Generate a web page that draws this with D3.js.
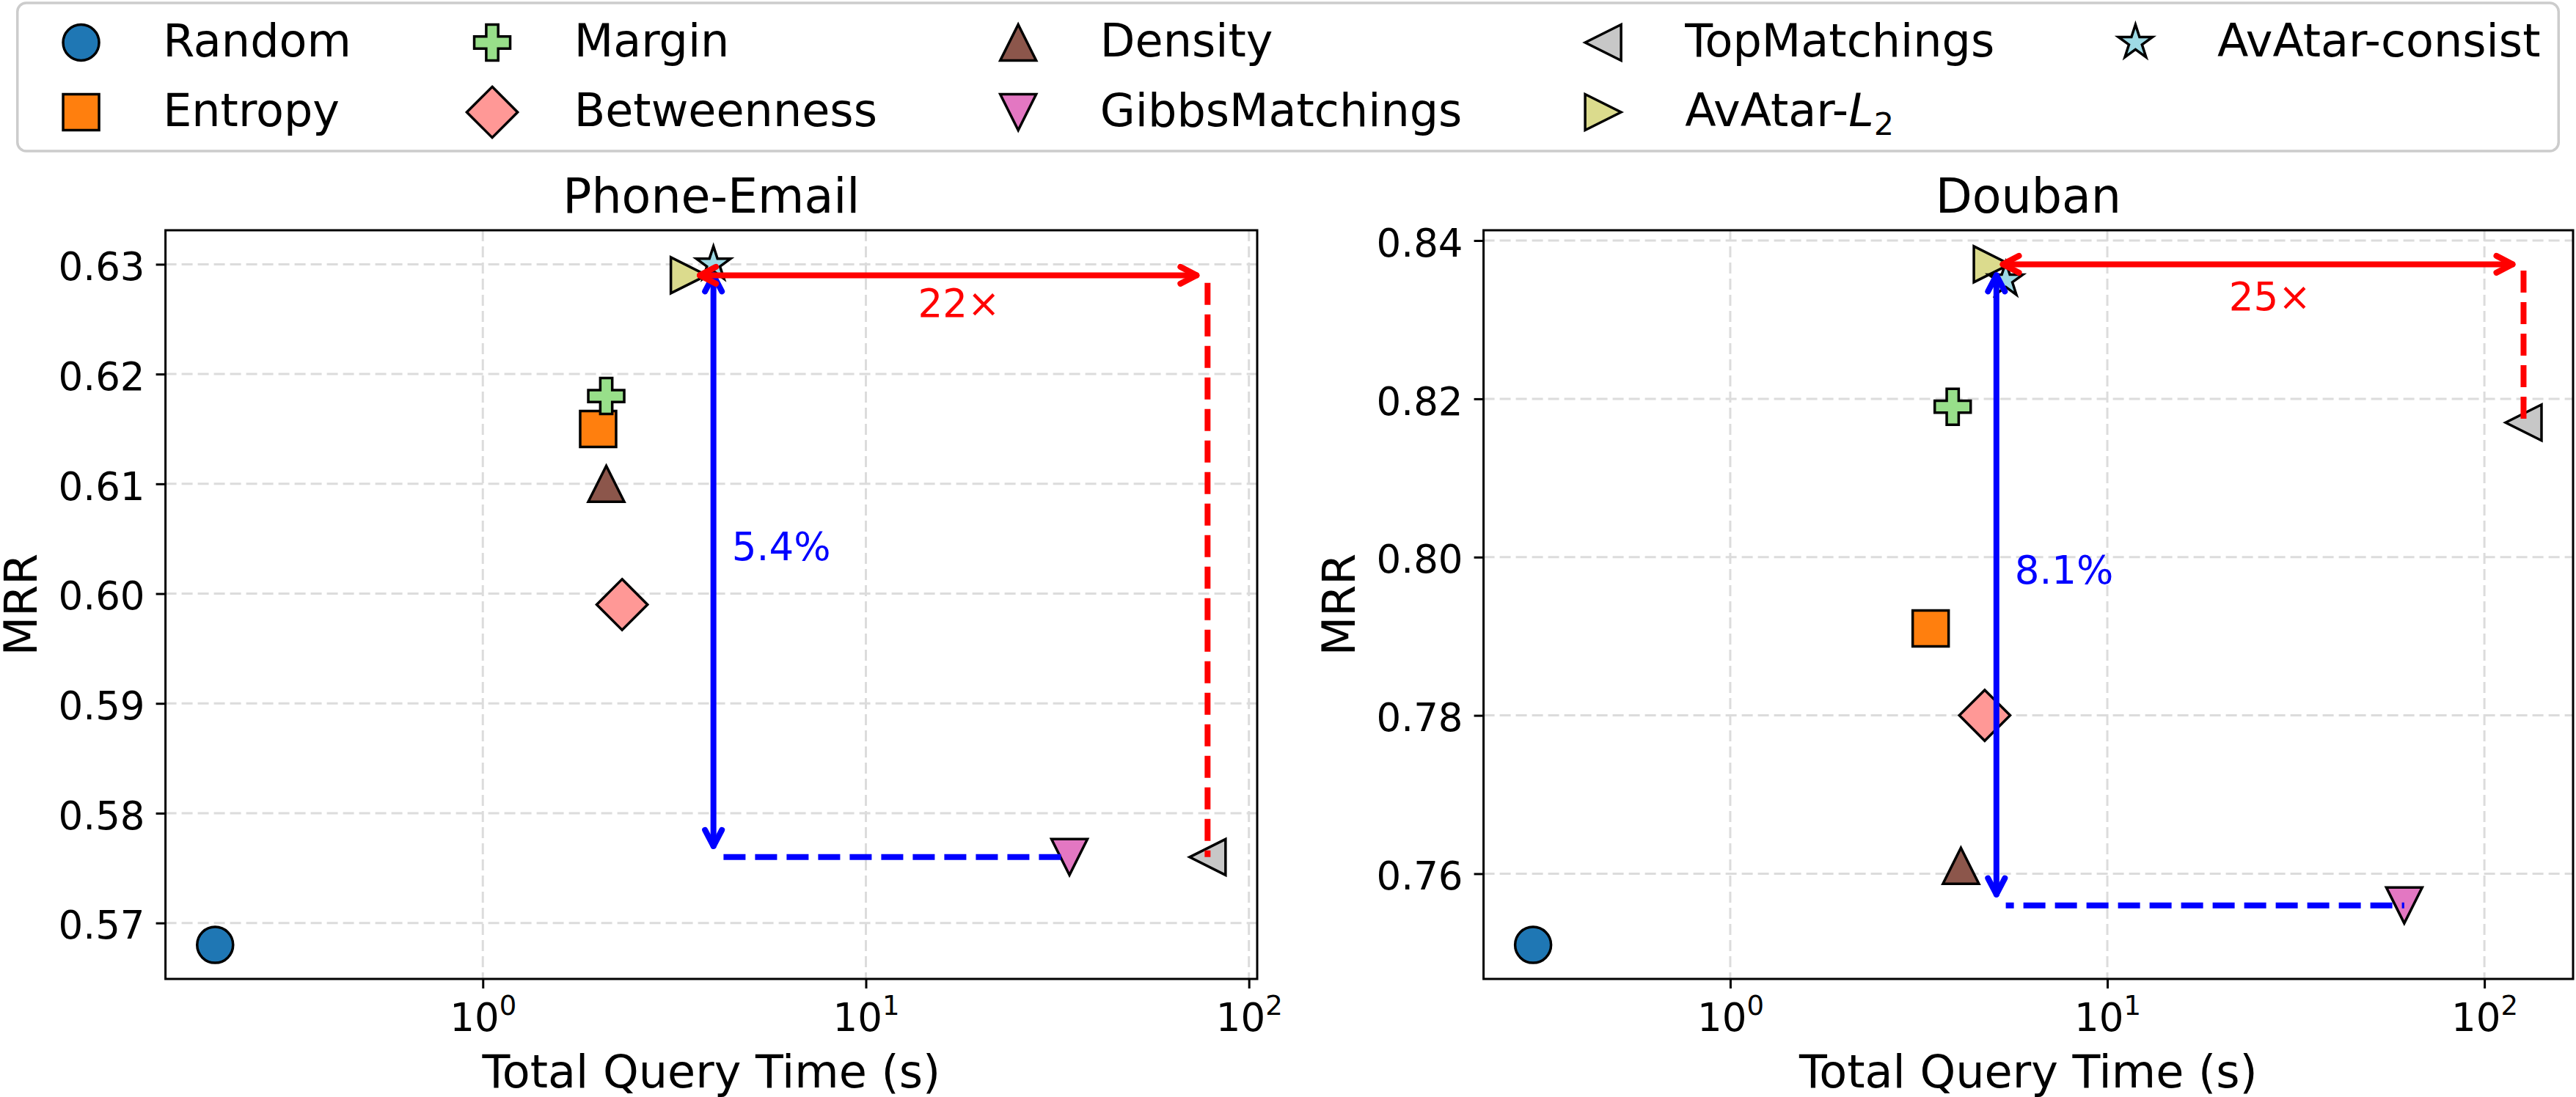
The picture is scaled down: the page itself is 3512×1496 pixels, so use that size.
<!DOCTYPE html>
<html>
<head>
<meta charset="utf-8">
<script src="https://cdn.jsdelivr.net/npm/d3@7"></script>
<style>
  body { margin: 0; background: #fff; }
  text { font-family: "DejaVu Sans"; }
</style>
</head>
<body>
<svg id="chart"></svg>
<script>
// methods, in plotting order (legend is column-major, 2 rows)
var methods = ["Random", "Entropy", "Margin", "Betweenness", "Density", "GibbsMatchings", "TopMatchings", "AvAtar-L2", "AvAtar-consist"];
var colors = ["#1f77b4", "#ff7f0e", "#98df8a", "#ff9896", "#8c564b", "#e377c2", "#c7c7c7", "#dbdb8d", "#9edae5"];
var shapes = ["circle", "square", "plus", "diamond", "up", "down", "left", "right", "star"];

// Phone-Email
var phoneTime = [0.2, 2.0, 2.1, 2.31, 2.1, 34, 78, 3.45, 4.0];
var phoneMRR = [0.568, 0.615, 0.618, 0.599, 0.610, 0.576, 0.576, 0.629, 0.630];
var phoneYTicks = [0.57, 0.58, 0.59, 0.60, 0.61, 0.62, 0.63];

// Douban
var doubanTime = [0.3, 3.4, 3.89, 4.73, 4.09, 61.3, 127, 4.94, 5.38];
var doubanMRR = [0.751, 0.791, 0.819, 0.780, 0.761, 0.756, 0.817, 0.837, 0.835];
var doubanYTicks = [0.76, 0.78, 0.80, 0.82, 0.84];

var xTicks = [1, 10, 100];

// annotations: [phone, douban]
var speedupLabel = ["22×", "25×"];
var speedupPos = [[17.5, 0.6265], [27, 0.833]];
var gainLabel = ["5.4%", "8.1%"];
var gainPos = [[4.47, 0.6043], [5.68, 0.7984]];
var redArrowX = [[3.45, 78], [4.94, 127]];
var redArrowY = [0.629, 0.837];
var redDropY = [[0.6283, 0.576], [0.8362, 0.817]];
var blueArrowX = [4.0, 5.08];
var blueArrowY = [[0.630, 0.576], [0.837, 0.756]];
var blueDashX = [[4.25, 34], [5.38, 61.3]];

var width = 3512, height = 1496;
var plotTop = 314, plotBottom = 1335;

var svg = d3.select("#chart").attr("width", width).attr("height", height);
svg.append("rect").attr("width", width).attr("height", height).attr("fill", "white");

var markerPath = function (kind) {
  var h = 24.5;
  var pts;
  if (kind == "circle") {
    return "M" + h + ",0A" + h + "," + h + " 0 1 1 " + (-h) + ",0A" + h + "," + h + " 0 1 1 " + h + ",0Z";
  } else if (kind == "square") {
    pts = [[-h, -h], [h, -h], [h, h], [-h, h]];
  } else if (kind == "diamond") {
    var d = h * Math.SQRT2;
    pts = [[0, -d], [d, 0], [0, d], [-d, 0]];
  } else if (kind == "up") {
    pts = [[0, -h], [h, h], [-h, h]];
  } else if (kind == "down") {
    pts = [[0, h], [-h, -h], [h, -h]];
  } else if (kind == "left") {
    pts = [[-h, 0], [h, -h], [h, h]];
  } else if (kind == "right") {
    pts = [[h, 0], [-h, h], [-h, -h]];
  } else if (kind == "plus") {
    var u = 2 * h / 6;
    pts = [[-1, -3], [1, -3], [1, -1], [3, -1], [3, 1], [1, 1], [1, 3], [-1, 3], [-1, 1], [-3, 1], [-3, -1], [-1, -1]]
      .map(function (p) { return [p[0] * u, p[1] * u]; });
  } else {
    pts = d3.range(10).map(function (i) {
      var a = -Math.PI / 2 + i * Math.PI / 5;
      var r = i % 2 == 0 ? h : h * 0.381966;
      return [r * Math.cos(a), r * Math.sin(a)];
    });
  }
  return "M" + pts.join("L") + "Z";
};

var setLabel = function (t, name) {
  if (name == "AvAtar-L2") {
    t.append("tspan").text("AvAtar-");
    t.append("tspan").attr("font-style", "italic").text("L");
    t.append("tspan").attr("dy", 12).attr("font-size", 43).text("2");
  } else {
    t.text(name);
  }
};

var padLog = function (vals) {
  var lo = d3.min(vals, Math.log10), hi = d3.max(vals, Math.log10);
  var p = (hi - lo) * 0.05;
  return [Math.pow(10, lo - p), Math.pow(10, hi + p)];
};

var padLin = function (vals) {
  var lo = d3.min(vals), hi = d3.max(vals);
  var p = (hi - lo) * 0.05;
  return [lo - p, hi + p];
};

var drawArrow = function (g, x1, y1, x2, y2, color) {
  var dx = x2 - x1, dy = y2 - y1;
  var len = Math.sqrt(dx * dx + dy * dy);
  var ux = dx / len, uy = dy / len;
  var s = 15, L = 22, w = 11.5;
  var a = [x1 + ux * s, y1 + uy * s], b = [x2 - ux * s, y2 - uy * s];
  g.append("line")
    .attr("x1", a[0]).attr("y1", a[1]).attr("x2", b[0]).attr("y2", b[1])
    .attr("stroke", color).attr("stroke-width", 8).attr("stroke-linecap", "round");
  [[a, -1], [b, 1]].forEach(function (e) {
    var tip = e[0], dir = e[1];
    var bx = tip[0] - dir * ux * L, by = tip[1] - dir * uy * L;
    g.append("path")
      .attr("d", "M" + (bx - uy * w) + "," + (by + ux * w) + "L" + tip[0] + "," + tip[1] + "L" + (bx + uy * w) + "," + (by - ux * w))
      .attr("fill", "none").attr("stroke", color).attr("stroke-width", 8)
      .attr("stroke-linecap", "round").attr("stroke-linejoin", "round");
  });
};

var drawPanel = function (k, title, left, right, times, mrr, yTicks, yFormat, dashOffset) {
  var x = d3.scaleLog().domain(padLog(times)).range([left, right]);
  var y = d3.scaleLinear().domain(padLin(mrr)).range([plotBottom, plotTop]);
  var g = svg.append("g");

  // grid
  g.selectAll(".gx").data(xTicks.filter(function (d) { return x(d) >= left && x(d) <= right; }))
    .enter().append("line")
    .attr("x1", function (d) { return x(d); }).attr("x2", function (d) { return x(d); })
    .attr("y1", plotTop).attr("y2", plotBottom)
    .attr("stroke", "#dcdcdc").attr("stroke-width", 3).attr("stroke-dasharray", "15,7");
  g.selectAll(".gy").data(yTicks).enter().append("line")
    .attr("x1", left).attr("x2", right)
    .attr("y1", function (d) { return y(d); }).attr("y2", function (d) { return y(d); })
    .attr("stroke", "#dcdcdc").attr("stroke-width", 3).attr("stroke-dasharray", "15,7");

  // points
  g.selectAll(".pt").data(methods).enter().append("path")
    .attr("d", function (d, i) { return markerPath(shapes[i]); })
    .attr("transform", function (d, i) { return "translate(" + x(times[i]) + "," + y(mrr[i]) + ")"; })
    .attr("fill", function (d, i) { return colors[i]; })
    .attr("stroke", "black").attr("stroke-width", 3.5).attr("stroke-linejoin", "miter");

  // blue: accuracy gap
  var gibbs = methods.indexOf("GibbsMatchings");
  g.append("line")
    .attr("x1", x(blueDashX[k][0])).attr("x2", x(blueDashX[k][1]))
    .attr("y1", y(mrr[gibbs])).attr("y2", y(mrr[gibbs]))
    .attr("stroke", "blue").attr("stroke-width", 8)
    .attr("stroke-dasharray", "30,13").attr("stroke-dashoffset", dashOffset);

  // red: time gap
  var topm = methods.indexOf("TopMatchings");
  g.append("line")
    .attr("x1", x(times[topm])).attr("x2", x(times[topm]))
    .attr("y1", y(redDropY[k][0])).attr("y2", y(redDropY[k][1]))
    .attr("stroke", "red").attr("stroke-width", 8).attr("stroke-dasharray", "30,13");

  drawArrow(g, x(blueArrowX[k]), y(blueArrowY[k][0]), x(blueArrowX[k]), y(blueArrowY[k][1]), "blue");
  drawArrow(g, x(redArrowX[k][0]), y(redArrowY[k]), x(redArrowX[k][1]), y(redArrowY[k]), "red");

  g.append("text")
    .attr("x", x(speedupPos[k][0])).attr("y", y(speedupPos[k][1]) + 19)
    .attr("text-anchor", "middle").attr("font-size", 53).attr("fill", "red")
    .text(speedupLabel[k]);
  g.append("text")
    .attr("x", x(gainPos[k][0])).attr("y", y(gainPos[k][1]) + 19)
    .attr("font-size", 53).attr("fill", "blue")
    .text(gainLabel[k]);

  // frame
  g.append("rect")
    .attr("x", left).attr("y", plotTop)
    .attr("width", right - left).attr("height", plotBottom - plotTop)
    .attr("fill", "none").attr("stroke", "black").attr("stroke-width", 3);

  // axes
  var ya = g.append("g").attr("transform", "translate(" + left + ",0)")
    .call(d3.axisLeft(y).tickValues(yTicks).tickFormat(d3.format(yFormat)).tickSize(13).tickPadding(15).tickSizeOuter(0));
  var xa = g.append("g").attr("transform", "translate(0," + plotBottom + ")")
    .call(d3.axisBottom(x).tickValues(xTicks).tickSize(13).tickSizeOuter(0));
  [ya, xa].forEach(function (a) {
    a.select(".domain").remove();
    a.selectAll(".tick line").attr("stroke", "black").attr("stroke-width", 3);
    a.selectAll("text").attr("font-family", "DejaVu Sans").attr("font-size", 53).attr("fill", "black");
  });
  ya.selectAll("text").attr("dy", "0.4em");
  xa.selectAll("text").each(function (d) {
    var t = d3.select(this).text("").attr("y", 71).attr("dy", null);
    t.append("tspan").text("10");
    t.append("tspan").attr("dy", -22).attr("font-size", 37).text(Math.round(Math.log10(d)));
  });

  // titles
  g.append("text")
    .attr("x", (left + right) / 2).attr("y", plotTop - 24)
    .attr("text-anchor", "middle").attr("font-size", 65)
    .text(title);
  g.append("text")
    .attr("x", (left + right) / 2).attr("y", plotBottom + 148)
    .attr("text-anchor", "middle").attr("font-size", 62)
    .text("Total Query Time (s)");
  g.append("text")
    .attr("transform", "translate(" + (left - 176) + "," + (plotTop + plotBottom) / 2 + ") rotate(-90)")
    .attr("text-anchor", "middle").attr("font-size", 62)
    .text("MRR");
};

drawPanel(0, "Phone-Email", 225.6, 1714, phoneTime, phoneMRR, phoneYTicks, ".2f", 0);
drawPanel(1, "Douban", 2022.6, 3508, doubanTime, doubanMRR, doubanYTicks, ".2f", 19);

// legend
var fs = 62;
var rowY = [58, 153];
var legend = svg.append("g");
var box = legend.append("rect");
var items = legend.selectAll(".item").data(methods).enter().append("g");
items.append("text")
  .attr("font-size", fs)
  .each(function (d) { setLabel(d3.select(this), d); });
var widths = [];
items.select("text").each(function (d) { widths.push(this.getComputedTextLength()); });

var colX = [], cx = 0;
for (var c = 0; c < 5; c++) {
  var w = d3.max(widths.filter(function (v, i) { return Math.floor(i / 2) == c; }));
  colX.push(cx);
  cx = cx + 2.8 * fs + w + 2.1 * fs;
}
var lastW = d3.max(widths.filter(function (v, i) { return Math.floor(i / 2) == 4; }));
var inner = colX[4] + 2.8 * fs + lastW;

items.select("text")
  .attr("x", function (d, i) { return colX[Math.floor(i / 2)] + 2.8 * fs; })
  .attr("y", function (d, i) { return rowY[i % 2] + 19; });
items.append("path")
  .attr("d", function (d, i) { return markerPath(shapes[i]); })
  .attr("transform", function (d, i) { return "translate(" + (colX[Math.floor(i / 2)] + fs) + "," + rowY[i % 2] + ")"; })
  .attr("fill", function (d, i) { return colors[i]; })
  .attr("stroke", "black").attr("stroke-width", 3.5);

box.attr("x", -0.4 * fs).attr("y", 4)
  .attr("width", inner + 0.8 * fs).attr("height", 202)
  .attr("rx", 12).attr("fill", "white").attr("stroke", "#cccccc").attr("stroke-width", 3.5);
legend.attr("transform", "translate(" + (width / 2 - inner / 2) + ",0)");
</script>
</body>
</html>
